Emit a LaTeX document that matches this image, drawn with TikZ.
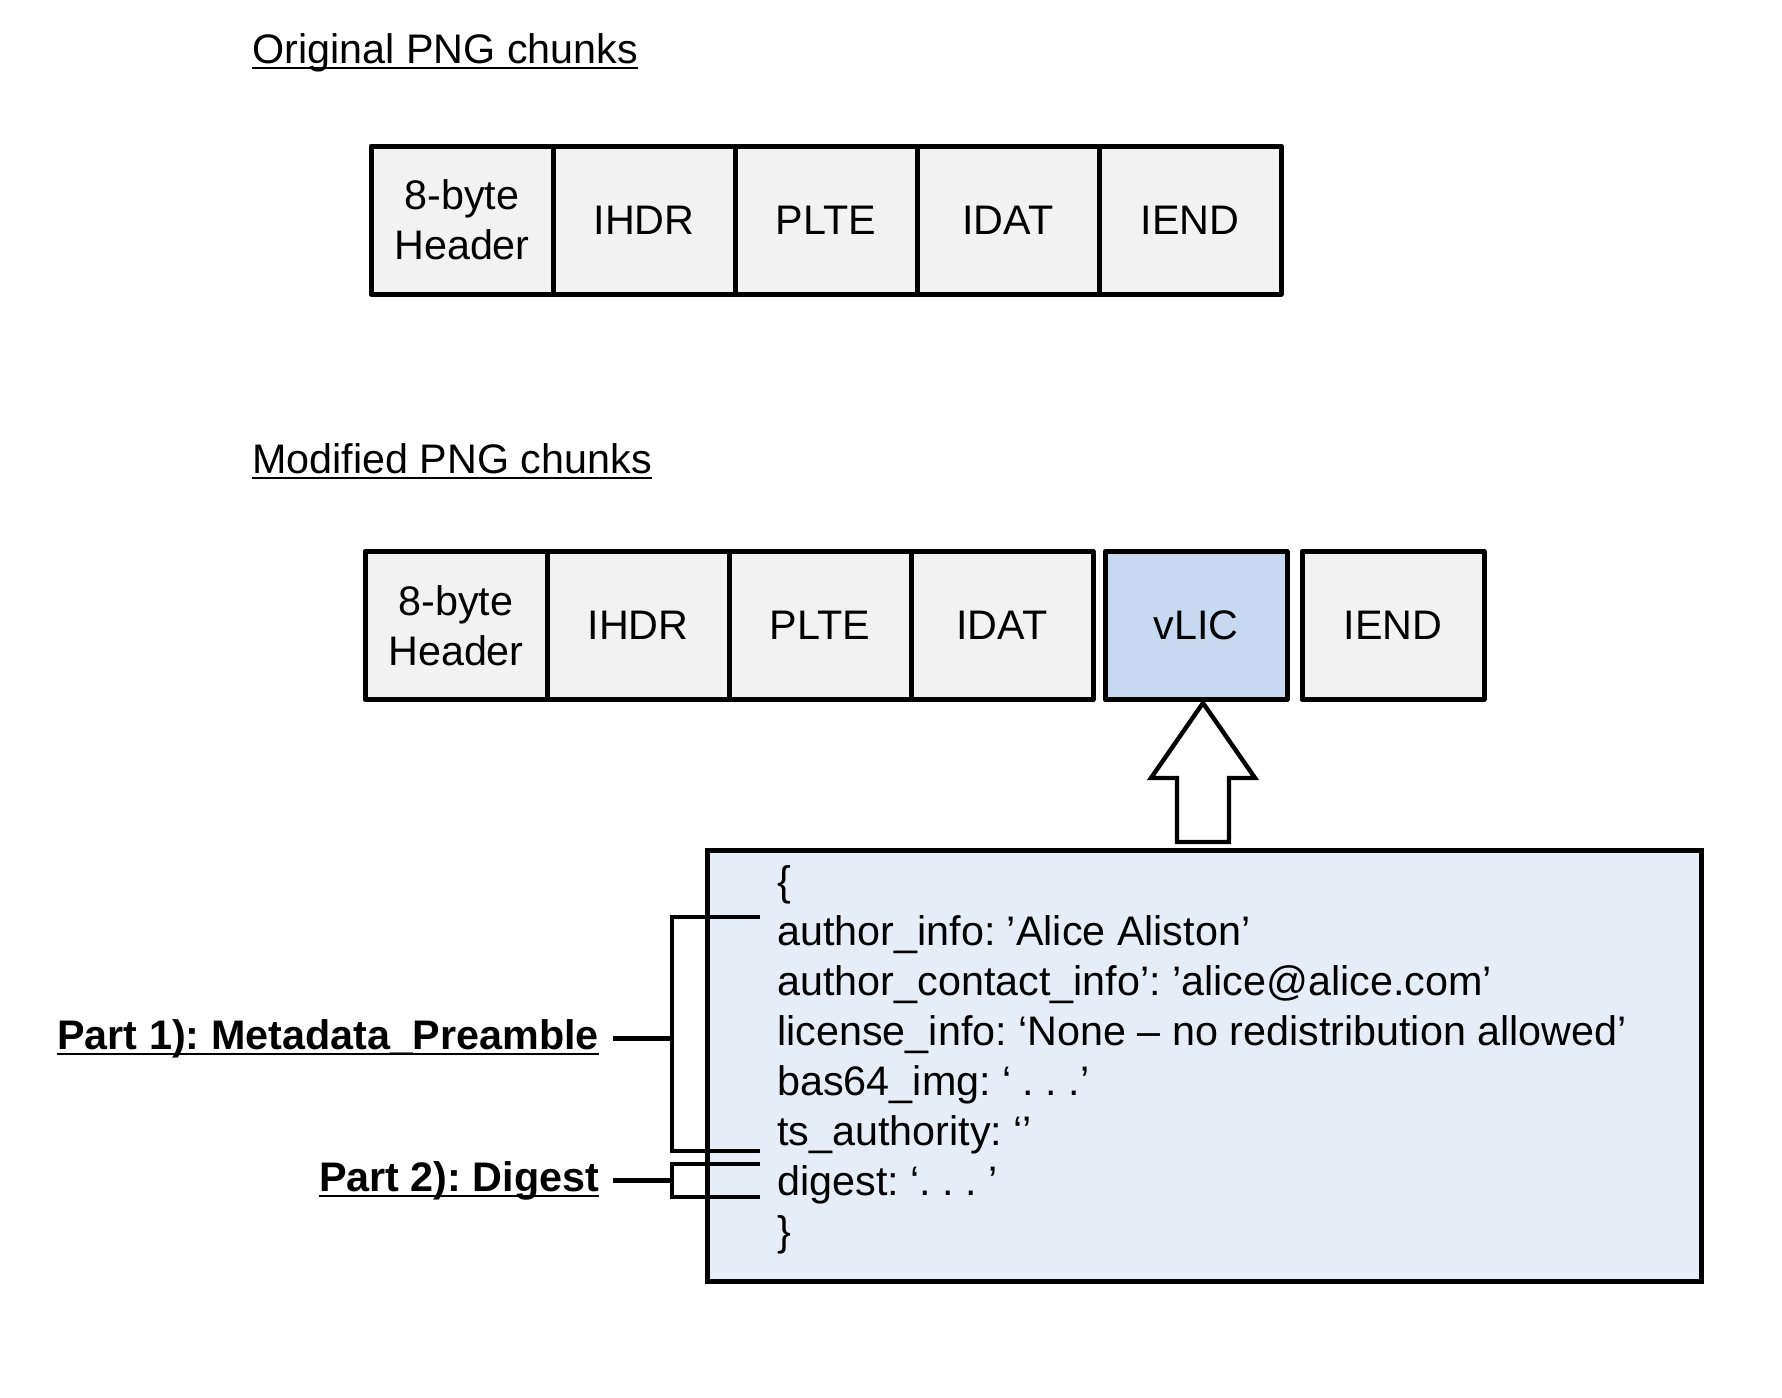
\documentclass[tikz,border=0pt]{standalone}
\usepackage{fontspec}
\setmainfont{Liberation Sans}
\usepackage{tikz}
\usetikzlibrary{positioning}
\definecolor{chunkgray}{HTML}{F2F2F2}
\definecolor{licblue}{HTML}{C6D9F1}
\definecolor{jsonblue}{HTML}{E6EDF7}
\newcommand{\ulined}[1]{\setbox0\hbox{#1}\rlap{\rule[-3.2pt]{\wd0}{1.4pt}}\box0}
\frenchspacing

\begin{document}
\begin{tikzpicture}[x=0.5pt, y=-0.5pt, font=\fontsize{20.65}{25}\selectfont]
\tikzstyle{chunk}=[draw, fill=chunkgray, line width=2.5pt, line join=round, minimum width=91pt, minimum height=74pt, inner sep=0pt, outer sep=0pt, align=center]
\tikzstyle{title}=[anchor=base west, inner sep=0pt]
\tikzstyle{jline}=[anchor=base west, inner sep=0pt]
\tikzstyle{part}=[anchor=base east, inner sep=0pt, outer sep=0pt, font=\fontsize{20.65}{25}\selectfont\bfseries]
\tikzstyle{bracket}=[line width=2.2pt]
\useasboundingbox (0,0) rectangle (1782,1397);

% original chunks
\node[title] (orig) at (252,63) {\ulined{Original PNG chunks}};
\node[chunk] (hdr1) at (462,220) {8-byte\\Header};
\node[chunk, right=0pt of hdr1] (ihdr1) {IHDR};
\node[chunk, right=0pt of ihdr1] (plte1) {PLTE};
\node[chunk, right=0pt of plte1] (idat1) {IDAT};
\node[chunk, right=0pt of idat1] (iend1) {IEND};

% modified chunks
\node[title] (mod) at (252,473) {\ulined{Modified PNG chunks}};
\node[chunk] (hdr2) at (456,625.5) {8-byte\\Header};
\node[chunk, right=0pt of hdr2] (ihdr2) {IHDR};
\node[chunk, right=0pt of ihdr2] (plte2) {PLTE};
\node[chunk, right=0pt of plte2] (idat2) {IDAT};
\node[chunk, fill=licblue, right=6pt of idat2] (vlic) {vLIC};
\node[chunk, right=7.5pt of vlic] (iend2) {IEND};

% metadata box
\node[draw, fill=jsonblue, line width=2.5pt, minimum width=497pt, minimum height=215.5pt, inner sep=0pt] (meta) at (1204,1066) {};
\node[jline] (l1) at (777,895) {\{};
\node[jline] (l2) at (777,945) {author\_info: ’Alice Aliston’};
\node[jline] (l3) at (777,995) {author\_contact\_info’: ’alice@alice.com’};
\node[jline] (l4) at (777,1045) {license\_info: ‘None – no redistribution allowed’};
\node[jline] (l5) at (777,1095) {bas64\_img: ‘ . . .’};
\node[jline] (l6) at (777,1145) {ts\_authority: ‘’};
\node[jline] (l7) at (777,1195) {digest: ‘. . . ’};
\node[jline] (l8) at (777,1245) {\}};

\draw[fill=white, line width=2.2pt, line join=miter] (1203,703) -- ++(52,75) -- ++(-26,0) -- ++(0,64) -- ++(-52,0) -- ++(0,-64) -- ++(-26,0) -- cycle;

% parts
\node[part] (part1) at (599,1049) {\ulined{Part 1): Metadata\_Preamble}};
\node[part] (part2) at (599,1191) {\ulined{Part 2): Digest}};
\coordinate (brk) at (672,0);

\draw[bracket] (760,917) -| (672,1151) -- (760,1151);
\draw[bracket] ([xshift=7pt]part1.east) -- (part1.east -| brk);
\draw[bracket] (760,1164) -| (672,1197) -- (760,1197);
\draw[bracket] ([xshift=7pt]part2.east) -- (part2.east -| brk);

\end{tikzpicture}
\end{document}
